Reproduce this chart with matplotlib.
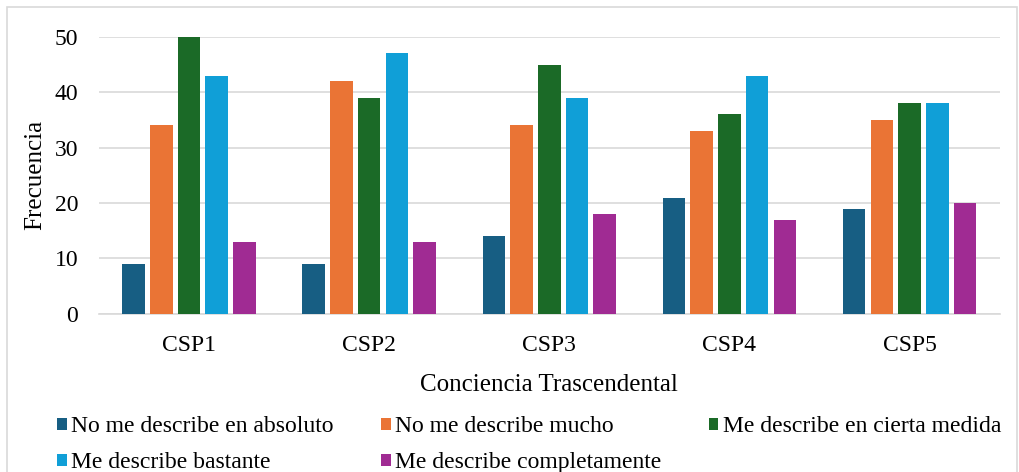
import numpy as np
import matplotlib.pyplot as plt
from matplotlib.patches import Rectangle

plt.rcParams['font.family'] = ['Liberation Serif', 'DejaVu Serif']

categories = ["CSP1", "CSP2", "CSP3", "CSP4", "CSP5"]
series_names = ["No me describe en absoluto", "No me describe mucho",
                "Me describe en cierta medida", "Me describe bastante",
                "Me describe completamente"]
no_absoluto = [9, 9, 14, 21, 19]
no_mucho = [34, 42, 34, 33, 35]
cierta_medida = [50, 39, 45, 36, 38]
bastante = [43, 47, 39, 43, 38]
completamente = [13, 13, 18, 17, 20]
colors = ["#175e83", "#ea7435", "#1b6a27", "#109fd7", "#a02b93"]

values = [no_absoluto, no_mucho, cierta_medida, bastante, completamente]

fig = plt.figure(figsize=(10.2, 4.72), dpi=100)
ax = fig.add_axes([0.097, 0.335, 0.883, 0.587])

x = np.arange(len(categories))
pitch = 0.154
width = 0.125
bars = []
for i, (name, vals, c) in enumerate(zip(series_names, values, colors)):
    bars.append(ax.bar(x + (i - 2) * pitch, vals, width, color=c, label=name, zorder=3))

ax.set_xlim(-0.5, 4.5)
ax.set_ylim(0, 50)
ax.set_yticks(range(0, 51, 10))
ax.set_xticks(x)
ax.set_xticklabels(categories)
ax.tick_params(axis='both', length=0, labelsize=17, colors='black')
ax.tick_params(axis='y', pad=15)
ax.tick_params(axis='x', pad=15)
ax.grid(axis='y', color='#d9d9d9', linewidth=1.2, zorder=0)
for s in ['top', 'right', 'left']:
    ax.spines[s].set_visible(False)
ax.spines['bottom'].set_color('#d9d9d9')
ax.spines['bottom'].set_linewidth(1.2)

ax.set_xlabel("Conciencia Trascendental", fontsize=18, labelpad=13)
ax.set_ylabel("Frecuencia", fontsize=18, labelpad=6)

# legend fills row by row: reorder for column-major layout
order = [0, 3, 1, 4, 2]
fig.legend([bars[i] for i in order], [series_names[i] for i in order],
           loc='lower left', bbox_to_anchor=(0.04, -0.038), ncol=3, frameon=False,
           prop={'family': 'Liberation Serif', 'size': 17},
           handlelength=0.4, handleheight=0.4, handletextpad=0.2,
           columnspacing=2.0, labelspacing=0.65, borderaxespad=0.3)

fig.patches.append(Rectangle((0.007, -0.05), 0.99, 1.035, transform=fig.transFigure,
                             fill=False, edgecolor='#d9d9d9', linewidth=1.2))

fig.savefig("out.png", dpi=100)
